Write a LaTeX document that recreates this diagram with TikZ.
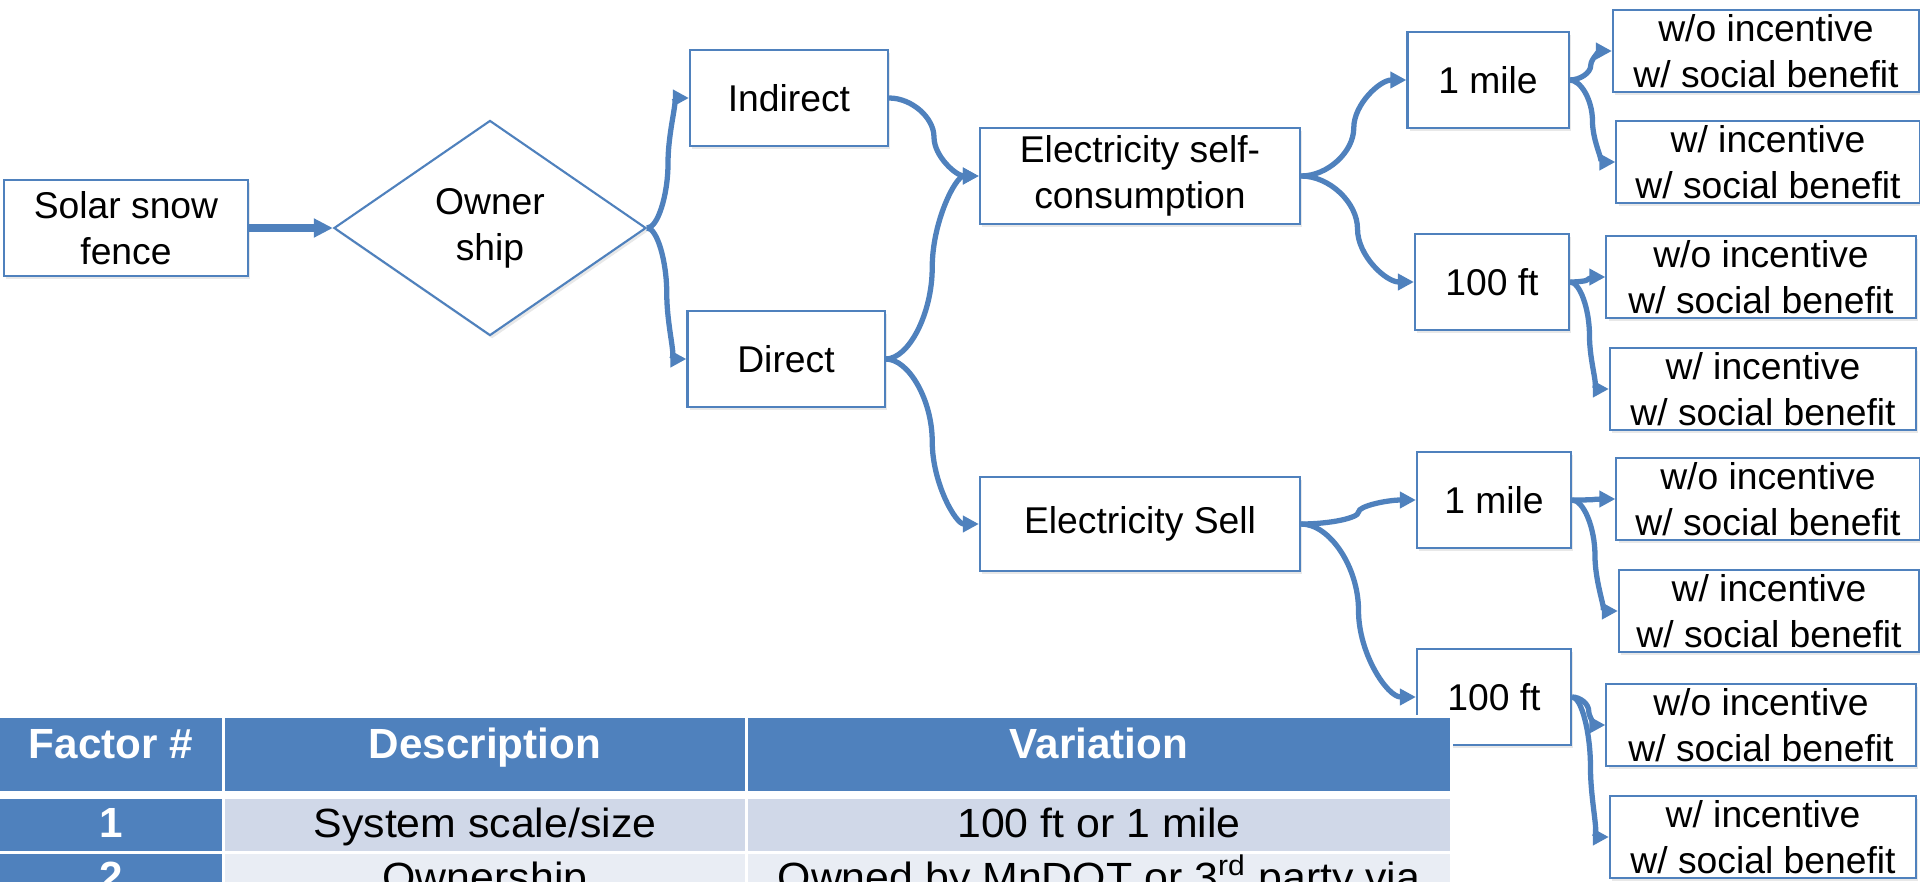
\documentclass[tikz,border=0pt]{standalone}
\usepackage{fontspec}
\setmainfont{Liberation Sans}
\newfontfamily\tabfont{Liberation Sans}[FakeStretch=1.05]
\usetikzlibrary{shapes.geometric,arrows.meta,calc,shadows}
\definecolor{fblue}{RGB}{79,129,189}
\definecolor{rowone}{RGB}{208,216,232}
\definecolor{rowtwo}{RGB}{233,237,244}

\begin{document}
\begin{tikzpicture}
    [ x=0.01cm, y=-0.01cm
    , box/.style={draw=fblue, line width=0.6pt, fill=white, align=center, inner sep=0pt,
        font=\fontsize{10.6}{13}\selectfont,
        drop shadow={opacity=0.18, shadow xshift=0.6pt, shadow yshift=-0.9pt}}
    , dist/.style={box, minimum width=1.54cm, minimum height=0.96cm}
    , leaf/.style={box, minimum width=3.06cm, minimum height=0.82cm}
    , curvy/.style={to path={let \p1=(\tikztostart), \p2=(\tikztotarget) in
        .. controls ({0.75*\x1+0.25*\x2},\y1) and ({0.5*\x1+0.5*\x2},{0.75*\y1+0.25*\y2})
        .. ({0.5*\x1+0.5*\x2},{0.5*\y1+0.5*\y2})
        .. controls ({0.5*\x1+0.5*\x2},{0.25*\y1+0.75*\y2}) and ({0.25*\x1+0.75*\x2},\y2)
        .. (\tikztotarget)}}
    , branch/.style={draw=fblue, line width=1.5pt, -{Triangle[length=0.16cm, width=0.16cm]}, curvy}
    , trunk/.style={draw=fblue, line width=2pt, -{Triangle[length=0.19cm, width=0.18cm]}}
    , thead/.style={anchor=base, inner sep=0pt, text=white, font=\fontsize{12}{14}\selectfont\bfseries}
    , tbody/.style={anchor=base, inner sep=0pt, font=\tabfont\fontsize{11.6}{14}\selectfont}
    ]
\useasboundingbox (0,0) rectangle (1920,881);
\clip (0,0) rectangle (1920,881);

\node[box, minimum width=2.44cm, minimum height=0.96cm] (fence) at (126,228) {Solar snow\\fence};
\node[box, shape=diamond, minimum width=3.12cm, minimum height=2.15cm] (owner) at (490,228) {Owner\\ship};
\node[box, minimum width=1.98cm, minimum height=0.96cm] (indirect) at (789,98) {Indirect};
\node[box, minimum width=1.97cm, minimum height=0.96cm] (direct) at (786,359) {Direct};
\node[box, minimum width=3.2cm, minimum height=0.96cm] (selfuse) at (1140,176) {Electricity self-\\consumption};
\node[box, minimum width=3.2cm, minimum height=0.94cm] (sell) at (1140,524) {Electricity Sell};

\node[dist, minimum width=1.61cm] (mileA) at (1488,80) {1 mile};
\node[dist] (ftA) at (1492,282) {100 ft};
\node[dist] (mileB) at (1494,500) {1 mile};
\node[dist] (ftB) at (1494,697) {100 ft};

\node[leaf] (mAno) at (1766,51) {w/o incentive\\w/ social benefit};
\node[leaf, minimum width=3.03cm] (mAyes) at (1768,162) {w/ incentive\\w/ social benefit};
\node[leaf, minimum width=3.09cm] (fAno) at (1761,277) {w/o incentive\\w/ social benefit};
\node[leaf] (fAyes) at (1763,389) {w/ incentive\\w/ social benefit};
\node[leaf, minimum width=3.03cm] (mBno) at (1768,499) {w/o incentive\\w/ social benefit};
\node[leaf, minimum width=3cm] (mByes) at (1769,611) {w/ incentive\\w/ social benefit};
\node[leaf, minimum width=3.09cm] (fBno) at (1761,725) {w/o incentive\\w/ social benefit};
\node[leaf] (fByes) at (1763,837) {w/ incentive\\w/ social benefit};

\draw[trunk] (fence) -- (owner);
\draw[branch] (owner.east) to (indirect.west);
\draw[branch] (owner.east) to (direct.west);
\draw[branch] (indirect.east) to (selfuse.west);
\draw[branch] (direct.east) to (selfuse.west);
\draw[branch] (direct.east) to (sell.west);
\draw[branch] (selfuse.east) to (mileA.west);
\draw[branch] (selfuse.east) to (ftA.west);
\draw[branch] (sell.east) to (mileB.west);
\draw[branch] (sell.east) to (ftB.west);
\draw[branch] (mileA.east) to (mAno.west);
\draw[branch] (mileA.east) to (mAyes.west);
\draw[branch] (ftA.east) to (fAno.west);
\draw[branch] (ftA.east) to (fAyes.west);
\draw[branch] (mileB.east) to (mBno.west);
\draw[branch] (mileB.east) to (mByes.west);
\draw[branch] (ftB.east) to (fBno.west);
\draw[branch] (ftB.east) to (fByes.west);

% factor table
\fill[white] (0,715) rectangle (1453,881);
\fill[fblue] (0,718) rectangle (222,791);
\fill[fblue] (225,718) rectangle (745,791);
\fill[fblue] (748,718) rectangle (1450,791);
\fill[fblue] (0,799) rectangle (222,851);
\fill[rowone] (225,799) rectangle (745,851);
\fill[rowone] (748,799) rectangle (1450,851);
\fill[fblue] (0,854) rectangle (222,900);
\fill[rowtwo] (225,854) rectangle (745,900);
\fill[rowtwo] (748,854) rectangle (1450,900);

\node[thead] (hfac) at (111,758) {Factor \#};
\node[thead] (hdesc) at (485,758) {Description};
\node[thead] (hvar) at (1099,758) {Variation};
\node[thead] (rfac1) at (111,837) {1};
\node[tbody] (rdesc1) at (485,837) {System scale/size};
\node[tbody] (rvar1) at (1099,837) {100 ft or 1 mile};
\node[thead] (rfac2) at (111,891) {2};
\node[tbody] (rdesc2) at (485,891) {Ownership};
\node[tbody] (rvar2) at (1099,891) {Owned by MnDOT or 3\textsuperscript{rd} party via};

\end{tikzpicture}
\end{document}
